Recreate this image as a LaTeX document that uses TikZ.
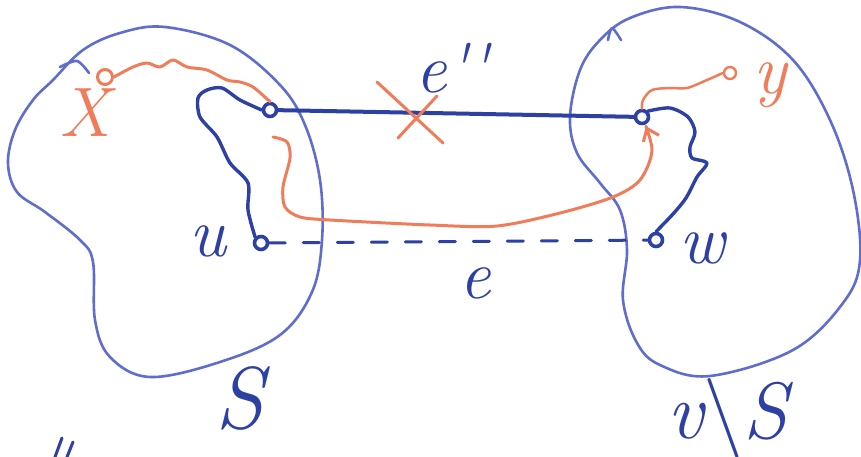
\documentclass[tikz,border=0pt]{standalone}
\usepackage{fontspec}
\usetikzlibrary{arrows.meta}
\definecolor{penblue}{RGB}{45,65,165}
\definecolor{blobblue}{RGB}{95,110,205}
\definecolor{penorange}{RGB}{240,125,90}
\begin{document}
\begin{tikzpicture}[x=1pt,y=-1pt,
  line cap=round, line join=round,
  blob/.style={draw=blobblue, line width=2.6pt},
  bedge/.style={draw=penblue, line width=4pt},
  oedge/.style={draw=penorange, line width=3pt},
  bvert/.style={circle, draw=penblue, line width=3.6pt, fill=white, inner sep=0pt, minimum size=13pt},
  overt/.style={circle, draw=penorange, line width=3pt, fill=white, inner sep=0pt, minimum size=13pt},
  blabel/.style={text=penblue, font=\fontsize{70}{70}\selectfont\itshape, inner sep=0pt},
  olabel/.style={text=penorange, font=\fontsize{70}{70}\selectfont\itshape, inner sep=0pt},
  biglabel/.style={text=penblue, font=\fontsize{88}{88}\selectfont\itshape, inner sep=0pt}]
\useasboundingbox[fill=white] (0,0) rectangle (861,457);

% blobs
\draw[blob] plot[smooth cycle, tension=0.6] coordinates {
  (165,27) (230,45) (280,85) (305,125) (320,180) (322,240) (312,292)
  (280,335) (220,362) (150,377) (110,357) (95,320) (93,262) (80,240)
  (45,212) (17,192) (8,163) (15,130) (33,100) (53,80) (83,50) (120,33)};
\draw[blob] plot[smooth] coordinates {(60,67) (77,61) (89,73)};
\draw[blob] plot[smooth cycle, tension=0.6] coordinates {
  (680,7) (740,22) (793,60) (830,120) (853,190) (860,260) (843,303)
  (793,350) (710,376) (660,365) (637,343) (623,300) (627,250) (620,210)
  (600,183) (577,153) (570,117) (580,70) (600,40) (630,18)};
\draw[blob] plot[smooth] coordinates {(608,40) (612,28) (621,40)};

% vertices
\node[overt, minimum size=15pt] (x) at (105,77) {};
\node[bvert] (a) at (270,110) {};
\node[bvert] (b) at (642,117) {};
\node[bvert] (u) at (261,243) {};
\node[bvert] (w) at (656,240) {};
\node[overt, minimum size=12pt, line width=2.4pt] (y) at (730,73) {};

% edges
\draw[bedge] (a) -- (b);
\draw[bedge, line width=3pt, dash pattern=on 16pt off 18pt] (u) -- (w);
\draw[bedge, line width=3.4pt] plot[smooth] coordinates {(u.north west) (248,210) (248,183) (230,163)
  (217,137) (200,117) (198,98) (207,90) (222,88) (240,100) (a.west)};
\draw[bedge, line width=3.4pt] plot[smooth] coordinates {(b.north east) (670,108) (688,117) (695,132)
  (690,147) (692,158) (707,163) (697,177) (686,198) (673,214) (w.north)};
\draw[oedge] plot[smooth] coordinates {(x.east) (133,67) (147,63) (160,67) (173,60)
  (187,67) (207,70) (227,80) (240,82) (253,87) (a.north)};
\draw[oedge, line width=2.5pt] plot[smooth] coordinates {(y.west) (707,80) (687,88) (670,88)
  (652,90) (643,100) (b.north)};
\coordinate (ostart) at (273,137);
\draw[oedge, -{Straight Barb[length=11pt, width=17pt, line width=3pt]}, shorten >=10pt]
  plot[smooth] coordinates {(ostart) (287,142) (290,158) (283,187) (285,207)
  (300,217) (330,220) (430,225) (497,226) (560,213) (613,197) (640,180) (652,150) (b)};

% crossing mark over e''
\draw[oedge] (377,82) -- (443,143);
\draw[oedge] (437,96) -- (398,138);

% labels
\node[olabel] (lx) at (85,113) {X};
\node[olabel] (ly) at (770,85) {y};
\node[blabel] (lu) at (208,241) {u};
\node[blabel] (lw) at (702,248) {w};
\node[blabel] (le) at (475,283) {e};
\node[blabel, anchor=base west] (lepp) at (415,93) {e\textquotesingle\textquotesingle};
\node[biglabel] (lS) at (240,398) {S};
\node[biglabel, font=\fontsize{80}{80}\selectfont\itshape] (lVS) at (727,418) {v{\upshape\textbackslash}S};

% bits of cut-off writing at the bottom
\draw[bedge, line width=3pt] (62,438) -- (55,457);
\draw[bedge, line width=3pt] (73,442) -- (67,457);
\end{tikzpicture}
\end{document}
